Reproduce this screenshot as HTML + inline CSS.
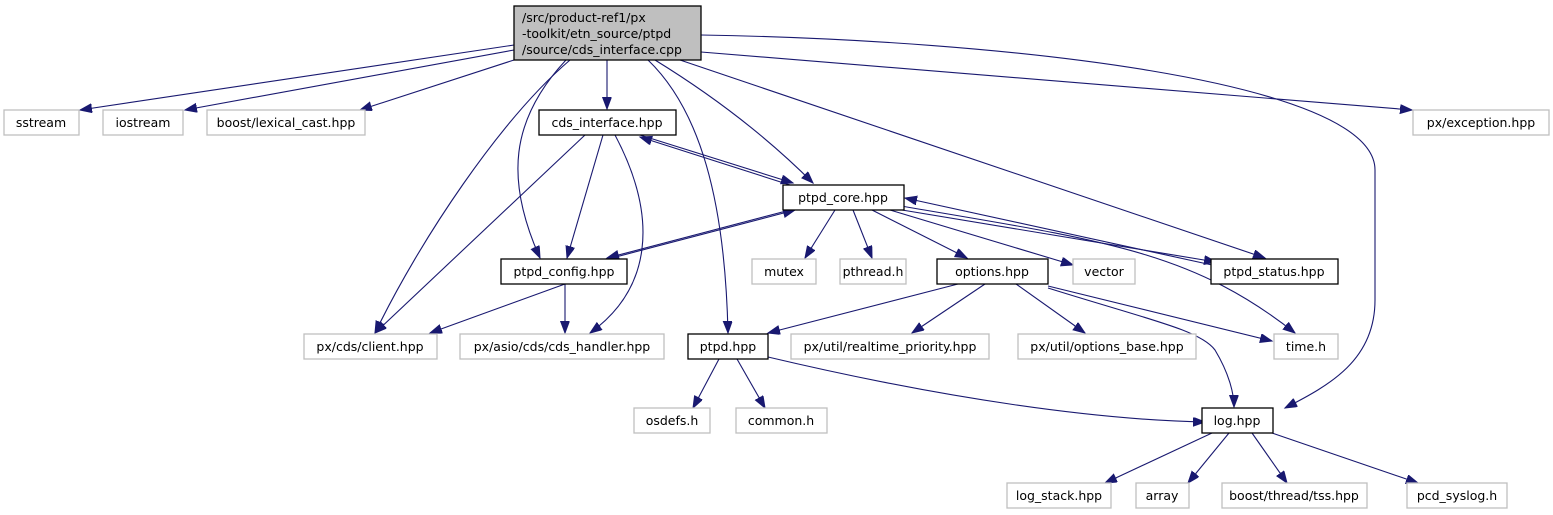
<!DOCTYPE html>
<html><head><meta charset="utf-8"><style>
html,body{margin:0;padding:0;background:#fff;}
svg{display:block;}
text{font-family:"DejaVu Sans","Liberation Sans",sans-serif;font-size:12.5px;fill:#000;}
.g rect{fill:#fff;stroke:#bfbfbf;stroke-width:1.3;}
.b rect{fill:#fff;stroke:#000;stroke-width:1.3;}
path{fill:none;stroke:#191970;stroke-width:1.1;}
</style></head><body>
<svg width="1553" height="515" viewBox="0 0 1553 515" xmlns="http://www.w3.org/2000/svg">
<defs><marker id="a" markerUnits="userSpaceOnUse" markerWidth="14" markerHeight="11" refX="12" refY="4.5" orient="auto"><polygon points="0,0 12,4.5 0,9" fill="#191970" stroke="#191970"/></marker></defs>
<g marker-end="url(#a)">
<path d="M514,45 L80,110"/>
<path d="M514,50 L185,110"/>
<path d="M514,60 L360,110"/>
<path d="M607,60 L607,109"/>
<path d="M701,52 L1412,110"/>
<path d="M701,35 C1000,40 1375,80 1375,170 L1375,300 C1375,360 1330,385 1285,408"/>
<path d="M570,60 C500,120 420,240 375,333"/>
<path d="M566,60 C510,120 505,180 540,258"/>
<path d="M648,60 C700,110 725,200 728,333"/>
<path d="M655,60 C720,100 770,140 813,183"/>
<path d="M680,60 L1265,258"/>
<path d="M585,135 L375,333"/>
<path d="M603,135 L567,258"/>
<path d="M615,135 C660,220 650,290 590,333"/>
<path d="M790,185 L640,137"/>
<path d="M640,135 L793,183"/>
<path d="M565,284 L430,333"/>
<path d="M565,284 L565,333"/>
<path d="M612,258 L795,210"/>
<path d="M790,210 L607,258"/>
<path d="M835,210 L805,258"/>
<path d="M853,210 L872,258"/>
<path d="M872,210 L967,258"/>
<path d="M890,210 L1073,265"/>
<path d="M890,208 L1216,262"/>
<path d="M1212,265 L905,198"/>
<path d="M895,205 C1100,240 1190,250 1295,333"/>
<path d="M958,284 L768,333"/>
<path d="M985,284 L912,333"/>
<path d="M1016,284 L1085,333"/>
<path d="M1048,286 L1272,341"/>
<path d="M1048,288 C1150,320 1200,330 1215,350 C1230,375 1234,395 1234,407"/>
<path d="M719,359 L693,408"/>
<path d="M737,359 L765,408"/>
<path d="M768,357 C950,400 1100,420 1205,422"/>
<path d="M1212,433 L1105,483"/>
<path d="M1229,433 L1188,483"/>
<path d="M1252,433 L1287,483"/>
<path d="M1272,433 L1418,483"/>
</g>
<g class="b"><rect x="514" y="6" width="187" height="54" style="fill:#bfbfbf"/>
<text x="522" y="22">/src/product-ref1/px</text><text x="522" y="38">-toolkit/etn_source/ptpd</text><text x="522" y="54">/source/cds_interface.cpp</text></g>
<g class="g"><rect x="4" y="110" width="75" height="25"/><text x="41" y="127" text-anchor="middle">sstream</text></g>
<g class="g"><rect x="103" y="110" width="80" height="25"/><text x="143" y="127" text-anchor="middle">iostream</text></g>
<g class="g"><rect x="207" y="110" width="158" height="25"/><text x="286" y="127" text-anchor="middle">boost/lexical_cast.hpp</text></g>
<g class="b"><rect x="539" y="110" width="137" height="25"/><text x="607" y="127" text-anchor="middle">cds_interface.hpp</text></g>
<g class="g"><rect x="1413" y="110" width="136" height="25"/><text x="1481" y="127" text-anchor="middle">px/exception.hpp</text></g>
<g class="b"><rect x="783" y="185" width="121" height="25"/><text x="843" y="202" text-anchor="middle">ptpd_core.hpp</text></g>
<g class="b"><rect x="501" y="259" width="126" height="25"/><text x="564" y="276" text-anchor="middle">ptpd_config.hpp</text></g>
<g class="g"><rect x="752" y="259" width="64" height="25"/><text x="784" y="276" text-anchor="middle">mutex</text></g>
<g class="g"><rect x="840" y="259" width="66" height="25"/><text x="873" y="276" text-anchor="middle">pthread.h</text></g>
<g class="b"><rect x="937" y="259" width="111" height="25"/><text x="992" y="276" text-anchor="middle">options.hpp</text></g>
<g class="g"><rect x="1073" y="259" width="62" height="25"/><text x="1104" y="276" text-anchor="middle">vector</text></g>
<g class="b"><rect x="1211" y="259" width="127" height="25"/><text x="1274" y="276" text-anchor="middle">ptpd_status.hpp</text></g>
<g class="g"><rect x="304" y="334" width="133" height="25"/><text x="370" y="351" text-anchor="middle">px/cds/client.hpp</text></g>
<g class="g"><rect x="460" y="334" width="204" height="25"/><text x="562" y="351" text-anchor="middle">px/asio/cds/cds_handler.hpp</text></g>
<g class="b"><rect x="688" y="334" width="80" height="25"/><text x="728" y="351" text-anchor="middle">ptpd.hpp</text></g>
<g class="g"><rect x="791" y="334" width="198" height="25"/><text x="890" y="351" text-anchor="middle">px/util/realtime_priority.hpp</text></g>
<g class="g"><rect x="1018" y="334" width="178" height="25"/><text x="1107" y="351" text-anchor="middle">px/util/options_base.hpp</text></g>
<g class="g"><rect x="1274" y="334" width="64" height="25"/><text x="1306" y="351" text-anchor="middle">time.h</text></g>
<g class="g"><rect x="634" y="408" width="76" height="25"/><text x="672" y="425" text-anchor="middle">osdefs.h</text></g>
<g class="g"><rect x="736" y="408" width="91" height="25"/><text x="781" y="425" text-anchor="middle">common.h</text></g>
<g class="b"><rect x="1202" y="408" width="71" height="25"/><text x="1237" y="425" text-anchor="middle">log.hpp</text></g>
<g class="g"><rect x="1007" y="483" width="104" height="25"/><text x="1059" y="500" text-anchor="middle">log_stack.hpp</text></g>
<g class="g"><rect x="1136" y="483" width="53" height="25"/><text x="1162" y="500" text-anchor="middle">array</text></g>
<g class="g"><rect x="1222" y="483" width="145" height="25"/><text x="1294" y="500" text-anchor="middle">boost/thread/tss.hpp</text></g>
<g class="g"><rect x="1407" y="483" width="100" height="25"/><text x="1457" y="500" text-anchor="middle">pcd_syslog.h</text></g>
</svg>
</body></html>
